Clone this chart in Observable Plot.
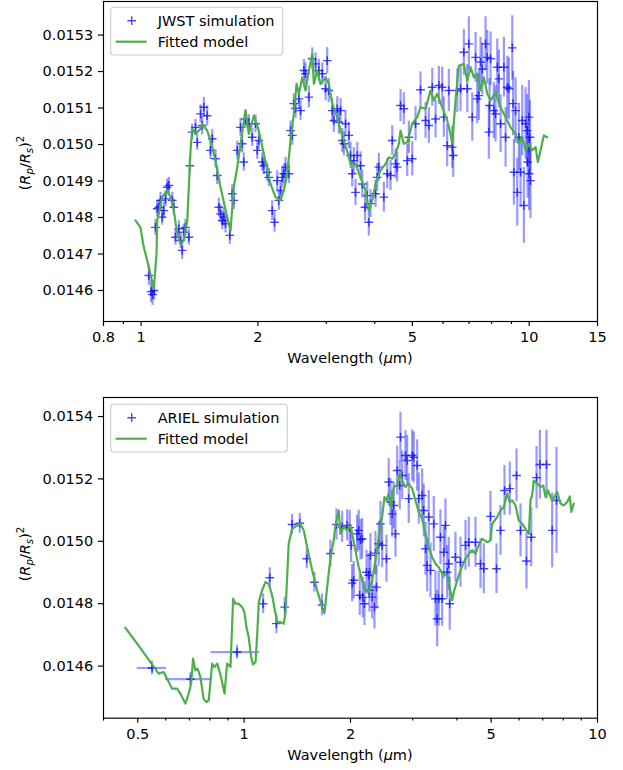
<!DOCTYPE html>
<html><head><meta charset="utf-8">
<script src="https://cdn.jsdelivr.net/npm/d3@7"></script>
<script src="https://cdn.jsdelivr.net/npm/@observablehq/plot@0.6"></script>
<style>
body{margin:0;background:#fff;}
#chart{width:623px;height:770px;background:#fff;}
#chart svg{display:block;}
</style></head><body><div id="chart"></div>
<script>
// ---------- JWST panel data ----------
const jwstWave=[1.047,1.061,1.070,1.080,1.089,1.100,1.111,1.122,1.133,1.144,1.156,1.167,1.179,1.203,1.214,1.226,1.251,1.264,1.276,1.288,1.301,1.327,1.335,1.354,1.381,1.395,1.423,1.437,1.451,1.480,1.509,1.525,1.555,1.571,1.586,1.602,1.618,1.633,1.650,1.693,1.717,1.733,1.769,1.804,1.822,1.839,1.858,1.895,1.933,1.972,1.992,2.011,2.052,2.071,2.113,2.134,2.177,2.207,2.243,2.264,2.287,2.310,2.332,2.356,2.403,2.427,2.452,2.475,2.500,2.550,2.576,2.627,2.653,2.706,2.761,2.816,2.871,2.930,2.987,3.017,3.046,3.108,3.138,3.202,3.233,3.266,3.299,3.330,3.364,3.431,3.465,3.500,3.533,3.569,3.606,3.677,3.714,3.776,3.825,3.862,3.901,4.019,4.060,4.099,4.222,4.309,4.394,4.438,4.526,4.571,4.662,4.754,4.851,4.898,4.997,5.096,5.248,5.408,5.515,5.627,5.739,5.853,5.970,6.027,6.149,6.208,6.335,6.373,6.527,6.656,6.787,6.926,6.992,7.135,7.276,7.348,7.419,7.493,7.569,7.719,7.798,7.872,7.905,7.952,8.110,8.193,8.276,8.355,8.440,8.607,8.694,8.783,8.866,9.046,9.090,9.134,9.225,9.318,9.406,9.502,9.598,9.690,9.788,9.888,9.906,9.983,9.995,10.05,10.08];
const jwstDepth=[0.014641,0.014597,0.014589,0.014600,0.014773,0.014824,0.014828,0.014847,0.014801,0.014819,0.014851,0.014883,0.014888,0.014847,0.014828,0.014746,0.014769,0.014737,0.014710,0.014760,0.014773,0.014746,0.014942,0.015034,0.015047,0.015006,0.015084,0.015052,0.015102,0.015079,0.014984,0.015016,0.014961,0.014915,0.014828,0.014810,0.014792,0.014801,0.014783,0.014751,0.014865,0.014847,0.014984,0.015047,0.015002,0.014952,0.015070,0.015057,0.015020,0.015057,0.014984,0.015011,0.014952,0.014942,0.014924,0.014910,0.014819,0.014787,0.014901,0.014847,0.014874,0.014910,0.014920,0.014938,0.014920,0.015038,0.015025,0.015112,0.015099,0.015125,0.015093,0.015203,0.015194,0.015130,0.015235,0.015221,0.015203,0.015194,0.015153,0.015230,0.015148,0.015093,0.015066,0.015098,0.015061,0.015093,0.015011,0.015002,0.015057,0.015025,0.014970,0.014920,0.014956,0.014869,0.014970,0.014942,0.014892,0.014828,0.014860,0.014787,0.014838,0.014865,0.014910,0.014938,0.014856,0.014920,0.014915,0.015011,0.014947,0.014938,0.015107,0.015098,0.014956,0.015020,0.014961,0.015057,0.015150,0.015066,0.015052,0.015157,0.015070,0.015162,0.015157,0.015075,0.014997,0.015148,0.014993,0.014970,0.015148,0.015153,0.015253,0.015153,0.015276,0.015075,0.015239,0.015125,0.015134,0.015226,0.015207,0.015276,0.015239,0.015034,0.015107,0.015235,0.015093,0.015084,0.015212,0.015180,0.015057,0.015212,0.015020,0.015157,0.015153,0.015265,0.015112,0.014924,0.015093,0.014869,0.015020,0.014924,0.015066,0.014833,0.015057,0.015038,0.014952,0.015075,0.014920,0.015020,0.014901];
const jwstErr=[0.000027,0.000030,0.000030,0.000027,0.000022,0.000022,0.000022,0.000022,0.000022,0.000022,0.000022,0.000022,0.000022,0.000022,0.000022,0.000022,0.000022,0.000022,0.000025,0.000022,0.000022,0.000022,0.000022,0.000022,0.000022,0.000022,0.000025,0.000025,0.000027,0.000027,0.000025,0.000025,0.000025,0.000025,0.000025,0.000025,0.000025,0.000025,0.000025,0.000025,0.000025,0.000025,0.000025,0.000025,0.000025,0.000025,0.000025,0.000025,0.000025,0.000025,0.000025,0.000025,0.000025,0.000025,0.000025,0.000025,0.000027,0.000027,0.000027,0.000027,0.000027,0.000027,0.000027,0.000027,0.000027,0.000027,0.000027,0.000027,0.000027,0.000027,0.000027,0.000030,0.000030,0.000030,0.000030,0.000030,0.000030,0.000030,0.000033,0.000036,0.000033,0.000033,0.000033,0.000033,0.000033,0.000033,0.000033,0.000033,0.000036,0.000036,0.000036,0.000036,0.000036,0.000036,0.000036,0.000038,0.000038,0.000038,0.000038,0.000038,0.000038,0.000038,0.000038,0.000038,0.000041,0.000041,0.000041,0.000041,0.000041,0.000041,0.000044,0.000044,0.000044,0.000044,0.000047,0.000047,0.000049,0.000049,0.000049,0.000052,0.000052,0.000052,0.000055,0.000055,0.000058,0.000058,0.000058,0.000060,0.000060,0.000063,0.000063,0.000066,0.000074,0.000066,0.000068,0.000068,0.000068,0.000068,0.000071,0.000074,0.000074,0.000074,0.000074,0.000074,0.000077,0.000077,0.000077,0.000079,0.000079,0.000082,0.000082,0.000085,0.000085,0.000088,0.000088,0.000090,0.000090,0.000093,0.000093,0.000096,0.000096,0.000104,0.000099,0.000099,0.000099,0.000101,0.000101,0.000101,0.000104];
const jwstModelWave=[0.967,0.996,1.016,1.047,1.078,1.096,1.100,1.133,1.167,1.191,1.214,1.239,1.264,1.288,1.315,1.341,1.354,1.381,1.423,1.437,1.480,1.509,1.555,1.602,1.667,1.700,1.733,1.769,1.804,1.858,1.895,1.952,2.011,2.071,2.155,2.220,2.287,2.332,2.380,2.427,2.475,2.515,2.550,2.602,2.653,2.706,2.761,2.787,2.844,2.900,2.987,3.046,3.108,3.202,3.266,3.330,3.410,3.465,3.569,3.677,3.787,3.862,3.941,4.019,4.140,4.265,4.348,4.438,4.526,4.615,4.662,4.754,4.851,4.997,5.148,5.248,5.408,5.570,5.677,5.796,5.970,6.149,6.272,6.335,6.461,6.589,6.787,6.926,7.063,7.203,7.348,7.493,7.643,7.798,7.952,8.193,8.440,8.694,8.957,9.225,9.406,9.598,9.788,9.983,10.18,10.39,10.53,10.70,10.91,11.13];
const jwstModelDepth=[0.014792,0.014773,0.014719,0.014664,0.014605,0.014701,0.014792,0.014856,0.014874,0.014856,0.014819,0.014755,0.014728,0.014737,0.014792,0.014984,0.015043,0.015029,0.015043,0.015057,0.015038,0.015011,0.014956,0.014883,0.014801,0.014764,0.014883,0.014938,0.015002,0.015093,0.015029,0.015079,0.015038,0.014975,0.014892,0.014856,0.014847,0.014874,0.014920,0.015011,0.015084,0.015166,0.015139,0.015184,0.015148,0.015203,0.015249,0.015166,0.015203,0.015166,0.015184,0.015166,0.015112,0.015075,0.015038,0.015011,0.014975,0.014947,0.014947,0.014910,0.014874,0.014819,0.014847,0.014892,0.014929,0.014947,0.014965,0.014961,0.014975,0.015002,0.015038,0.015002,0.015006,0.015057,0.015075,0.015102,0.015098,0.015148,0.015121,0.015139,0.015102,0.015066,0.015029,0.015002,0.015121,0.015216,0.015221,0.015175,0.015212,0.015184,0.015194,0.015148,0.015184,0.015139,0.015121,0.015143,0.015102,0.015075,0.015047,0.015029,0.015002,0.015020,0.014984,0.015002,0.014984,0.014993,0.014952,0.014984,0.015025,0.015020];
const jwstXMajor=[0.8,1,2,5,10,15];
const jwstXMinor=[0.9,3,4,6,7,8,9];
const jwstYTicks=[0.0146,0.0147,0.0148,0.0149,0.0150,0.0151,0.0152,0.0153];

// ---------- ARIEL panel data ----------
const arielWave=[0.549,0.705,0.955,1.132,1.182,1.234,1.303,1.367,1.437,1.504,1.581,1.661,1.755,1.825,1.894,1.957,1.990,2.008,2.021,2.043,2.088,2.110,2.134,2.158,2.124,2.166,2.191,2.220,2.253,2.263,2.278,2.303,2.338,2.369,2.353,2.404,2.431,2.458,2.528,2.566,2.595,2.624,2.651,2.681,2.711,2.757,2.770,2.801,2.861,2.893,2.923,2.989,3.020,3.088,3.120,3.190,3.223,3.260,3.296,3.330,3.368,3.441,3.479,3.518,3.554,3.594,3.634,3.673,3.713,3.754,3.794,3.818,3.963,4.095,4.231,4.323,4.516,4.666,4.767,4.979,5.178,5.315,5.456,5.647,5.900,6.056,6.295,6.493,6.722,6.869,7.172,7.443,7.656];
const arielDepth=[0.014594,0.014558,0.014645,0.014800,0.014883,0.014736,0.014789,0.015054,0.015058,0.014944,0.014869,0.014796,0.014961,0.015054,0.015046,0.015051,0.015044,0.014987,0.014866,0.014875,0.015024,0.015035,0.015005,0.015008,0.014827,0.014820,0.014800,0.014901,0.014891,0.014843,0.014955,0.014821,0.014789,0.014853,0.014962,0.014992,0.015056,0.014987,0.014944,0.015190,0.015126,0.015088,0.015115,0.015024,0.015227,0.015179,0.015334,0.015211,0.015275,0.015259,0.015137,0.015275,0.015269,0.015243,0.015137,0.015147,0.015099,0.014976,0.014923,0.015078,0.014907,0.015056,0.014816,0.014752,0.014816,0.015013,0.014816,0.014965,0.015051,0.014901,0.014928,0.014800,0.014949,0.014933,0.014987,0.014997,0.014997,0.014928,0.014912,0.015080,0.014912,0.015035,0.015163,0.015169,0.015211,0.015035,0.014937,0.015013,0.015204,0.015246,0.015246,0.015035,0.015131];
const arielErr=[0.000022,0.000022,0.000022,0.000032,0.000032,0.000032,0.000032,0.000032,0.000032,0.000032,0.000032,0.000035,0.000043,0.000050,0.000050,0.000050,0.000055,0.000055,0.000060,0.000060,0.000060,0.000065,0.000065,0.000065,0.000065,0.000065,0.000070,0.000070,0.000070,0.000070,0.000070,0.000070,0.000070,0.000070,0.000070,0.000072,0.000072,0.000072,0.000075,0.000075,0.000075,0.000075,0.000075,0.000075,0.000078,0.000078,0.000080,0.000078,0.000080,0.000080,0.000080,0.000082,0.000082,0.000082,0.000082,0.000085,0.000085,0.000085,0.000085,0.000085,0.000088,0.000088,0.000088,0.000090,0.000088,0.000088,0.000088,0.000085,0.000085,0.000085,0.000085,0.000085,0.000080,0.000080,0.000080,0.000080,0.000080,0.000080,0.000080,0.000080,0.000080,0.000080,0.000080,0.000085,0.000085,0.000085,0.000090,0.000095,0.000100,0.000110,0.000110,0.000120,0.000170];
// wavelength bin edges of the three broad photometric points (first three ARIEL points)
const arielBinLo=[0.498,0.599,0.806];
const arielBinHi=[0.604,0.815,1.107];
const arielModelWave=[0.461,0.498,0.543,0.573,0.592,0.605,0.625,0.646,0.660,0.682,0.697,0.708,0.717,0.728,0.739,0.752,0.768,0.782,0.794,0.812,0.824,0.839,0.857,0.880,0.895,0.915,0.931,0.945,0.965,0.987,1.002,1.015,1.030,1.047,1.060,1.077,1.088,1.100,1.124,1.149,1.174,1.200,1.240,1.267,1.295,1.309,1.337,1.367,1.413,1.443,1.475,1.508,1.558,1.609,1.663,1.688,1.718,1.756,1.793,1.813,1.852,1.873,1.914,1.957,2.000,2.021,2.065,2.110,2.158,2.205,2.253,2.303,2.353,2.404,2.458,2.495,2.528,2.566,2.607,2.651,2.711,2.757,2.801,2.861,2.923,2.989,3.054,3.120,3.190,3.260,3.330,3.405,3.479,3.554,3.634,3.754,3.818,3.879,3.920,4.008,4.095,4.231,4.323,4.418,4.516,4.584,4.718,4.874,4.979,5.035,5.201,5.315,5.431,5.552,5.647,5.736,5.862,5.989,6.124,6.295,6.392,6.462,6.534,6.602,6.750,6.897,7.023,7.129,7.237,7.443,7.690,7.859,8.029,8.209,8.350,8.427,8.570];
const arielModelDepth=[0.014723,0.014672,0.014613,0.014576,0.014581,0.014560,0.014528,0.014528,0.014512,0.014480,0.014512,0.014544,0.014624,0.014586,0.014592,0.014565,0.014495,0.014485,0.014490,0.014608,0.014597,0.014608,0.014572,0.014512,0.014608,0.014597,0.014816,0.014800,0.014800,0.014789,0.014773,0.014725,0.014693,0.014629,0.014605,0.014613,0.014693,0.014805,0.014843,0.014869,0.014864,0.014827,0.014741,0.014741,0.014736,0.014768,0.014992,0.015040,0.015051,0.015056,0.015035,0.014981,0.014907,0.014843,0.014789,0.014770,0.014853,0.014949,0.015003,0.015051,0.015099,0.015024,0.015046,0.015035,0.015051,0.015024,0.014971,0.014917,0.014875,0.014843,0.014837,0.014875,0.014939,0.015013,0.015078,0.015142,0.015131,0.015153,0.015110,0.015174,0.015179,0.015217,0.015195,0.015174,0.015185,0.015169,0.015131,0.015094,0.015072,0.015024,0.014981,0.014949,0.014928,0.014917,0.014896,0.014891,0.014853,0.014811,0.014837,0.014875,0.014907,0.014944,0.014960,0.014971,0.014960,0.014981,0.015008,0.014997,0.015003,0.015056,0.015078,0.015099,0.015110,0.015153,0.015126,0.015131,0.015115,0.015067,0.015056,0.015035,0.015024,0.015131,0.015147,0.015195,0.015185,0.015174,0.015179,0.015142,0.015163,0.015131,0.015158,0.015121,0.015115,0.015126,0.015144,0.015094,0.015121];
const arielXMajor=[0.5,1,2,5,10];
const arielXMinor=[0.4,0.6,0.7,0.8,0.9,3,4,6,7,8,9];
const arielYTicks=[0.0146,0.0148,0.0150,0.0152,0.0154];

// ---------- rendering ----------
const FS = 14.5;
const BLUE = "blue", GREEN = "#4daf4a";
const plusSymbol = {draw(ctx, size){ const r = Math.sqrt(size/Math.PI); ctx.moveTo(-r,0); ctx.lineTo(r,0); ctx.moveTo(0,-r); ctx.lineTo(0,r); }};

function panel(cfg){
  const n = Math.min(cfg.wave.length, cfg.depth.length, cfg.err.length);
  const pts = d3.range(n).map(i => ({w: cfg.wave[i], v: cfg.depth[i], e: cfg.err[i]}));
  const m = Math.min(cfg.modelWave.length, cfg.modelDepth.length);
  const model = d3.range(m).map(i => ({w: cfg.modelWave[i], v: cfg.modelDepth[i]}));
  const bins = (cfg.binLo || []).map((lo,i) => ({lo, hi: cfg.binHi[i], v: cfg.depth[i]}));
  const svg = Plot.plot({
    width: 623, height: 385,
    marginLeft: 103, marginRight: 26, marginTop: cfg.mt, marginBottom: cfg.mb,
    x: {type: "log", domain: cfg.xDomain},
    y: {domain: cfg.yDomain},
    style: {fontFamily: "'DejaVu Sans', sans-serif", fontSize: FS + "px", color: "black", background: "white", overflow: "visible"},
    marks: [
      Plot.ruleY(bins, {y: "v", x1: "lo", x2: "hi", stroke: BLUE, strokeOpacity: 0.4, strokeWidth: 2.2}),
      Plot.ruleX(pts, {x: "w", y1: d => d.v - d.e, y2: d => d.v + d.e, stroke: BLUE, strokeOpacity: 0.4, strokeWidth: 2.2}),
      Plot.dot(pts, {x: "w", y: "v", symbol: plusSymbol, r: 4.35, stroke: BLUE, strokeOpacity: 0.72, strokeWidth: 1.4, fill: "none"}),
      Plot.line(model, {x: "w", y: "v", stroke: GREEN, strokeWidth: 2.2, strokeLinejoin: "round"}),
      Plot.axisX({ticks: cfg.xMinor, tickSize: 2.9, tickFormat: () => "", label: null, strokeWidth: 1.16}),
      Plot.axisX({ticks: cfg.xMajor, tickSize: 5.1, tickPadding: 5.1, tickFormat: d => String(d), label: null, strokeWidth: 1.16}),
      Plot.axisY({ticks: cfg.yTicks, tickSize: 5.1, tickPadding: 5.1, tickFormat: d3.format(".4f"), label: null, strokeWidth: 1.16}),
      Plot.frame({stroke: "black", strokeWidth: 1.16})
    ]
  });
  const s = d3.select(svg);
  // x label
  const xl = s.append("text").attr("x", 350).attr("y", cfg.xLabelY).attr("text-anchor", "middle").attr("fill", "black");
  xl.append("tspan").text("Wavelength (");
  xl.append("tspan").attr("font-style", "italic").text("μ");
  xl.append("tspan").text("m)");
  // y label
  const yl = s.append("text").attr("text-anchor", "middle").attr("fill", "black")
    .attr("transform", `translate(30,${cfg.yLabelY}) rotate(-90)`);
  yl.append("tspan").text("(");
  yl.append("tspan").attr("font-style", "italic").text("R");
  yl.append("tspan").attr("font-style", "italic").attr("font-size", 10.2).attr("dy", 3).text("p");
  yl.append("tspan").attr("dy", -3).text("/");
  yl.append("tspan").attr("font-style", "italic").text("R");
  yl.append("tspan").attr("font-style", "italic").attr("font-size", 10.2).attr("dy", 3).text("s");
  yl.append("tspan").attr("dy", -3).text(")");
  yl.append("tspan").attr("font-size", 10.2).attr("dy", -6.5).text("2");
  // legend
  const L = cfg.legend;
  const g = s.append("g").attr("text-anchor", "start");
  g.append("rect").attr("x", 110.7).attr("y", L.top).attr("width", L.w).attr("height", 47.7)
    .attr("rx", 3).attr("fill", "white").attr("fill-opacity", 0.8).attr("stroke", "#cccccc").attr("stroke-width", 1.1);
  const my = L.top + 13.4;
  g.append("path").attr("d", `M${131.7-4.35},${my}H${131.7+4.35}M131.7,${my-4.35}V${my+4.35}`)
    .attr("stroke", BLUE).attr("stroke-opacity", 0.72).attr("stroke-width", 1.4).attr("fill", "none");
  g.append("text").attr("x", 157.7).attr("y", L.top + 18.6).attr("text-anchor", "start").attr("fill", "black").text(L.label);
  const ly = L.top + 34.4;
  g.append("line").attr("x1", 115.7).attr("x2", 146.7).attr("y1", ly).attr("y2", ly)
    .attr("stroke", GREEN).attr("stroke-width", 2.2);
  g.append("text").attr("x", 157.7).attr("y", L.top + 39.6).attr("text-anchor", "start").attr("fill", "black").text("Fitted model");
  return svg;
}

const chart = document.getElementById("chart");
chart.appendChild(panel({
  wave: jwstWave, depth: jwstDepth, err: jwstErr,
  modelWave: jwstModelWave, modelDepth: jwstModelDepth,
  xDomain: [0.8, 15], yDomain: [0.014515, 0.015392],
  xMajor: jwstXMajor, xMinor: jwstXMinor, yTicks: jwstYTicks,
  mt: 1, mb: 64, xLabelY: 363, yLabelY: 163,
  legend: {top: 7.3, w: 172, label: "JWST simulation"}
}));
chart.appendChild(panel({
  wave: arielWave, depth: arielDepth, err: arielErr, binLo: arielBinLo, binHi: arielBinHi,
  modelWave: arielModelWave, modelDepth: arielModelDepth,
  xDomain: [0.4, 10], yDomain: [0.014433, 0.015461],
  xMajor: arielXMajor, xMinor: arielXMinor, yTicks: arielYTicks,
  mt: 12, mb: 52.3, xLabelY: 375, yLabelY: 169,
  legend: {top: 19.3, w: 176.6, label: "ARIEL simulation"}
}));
</script>
</body></html>
